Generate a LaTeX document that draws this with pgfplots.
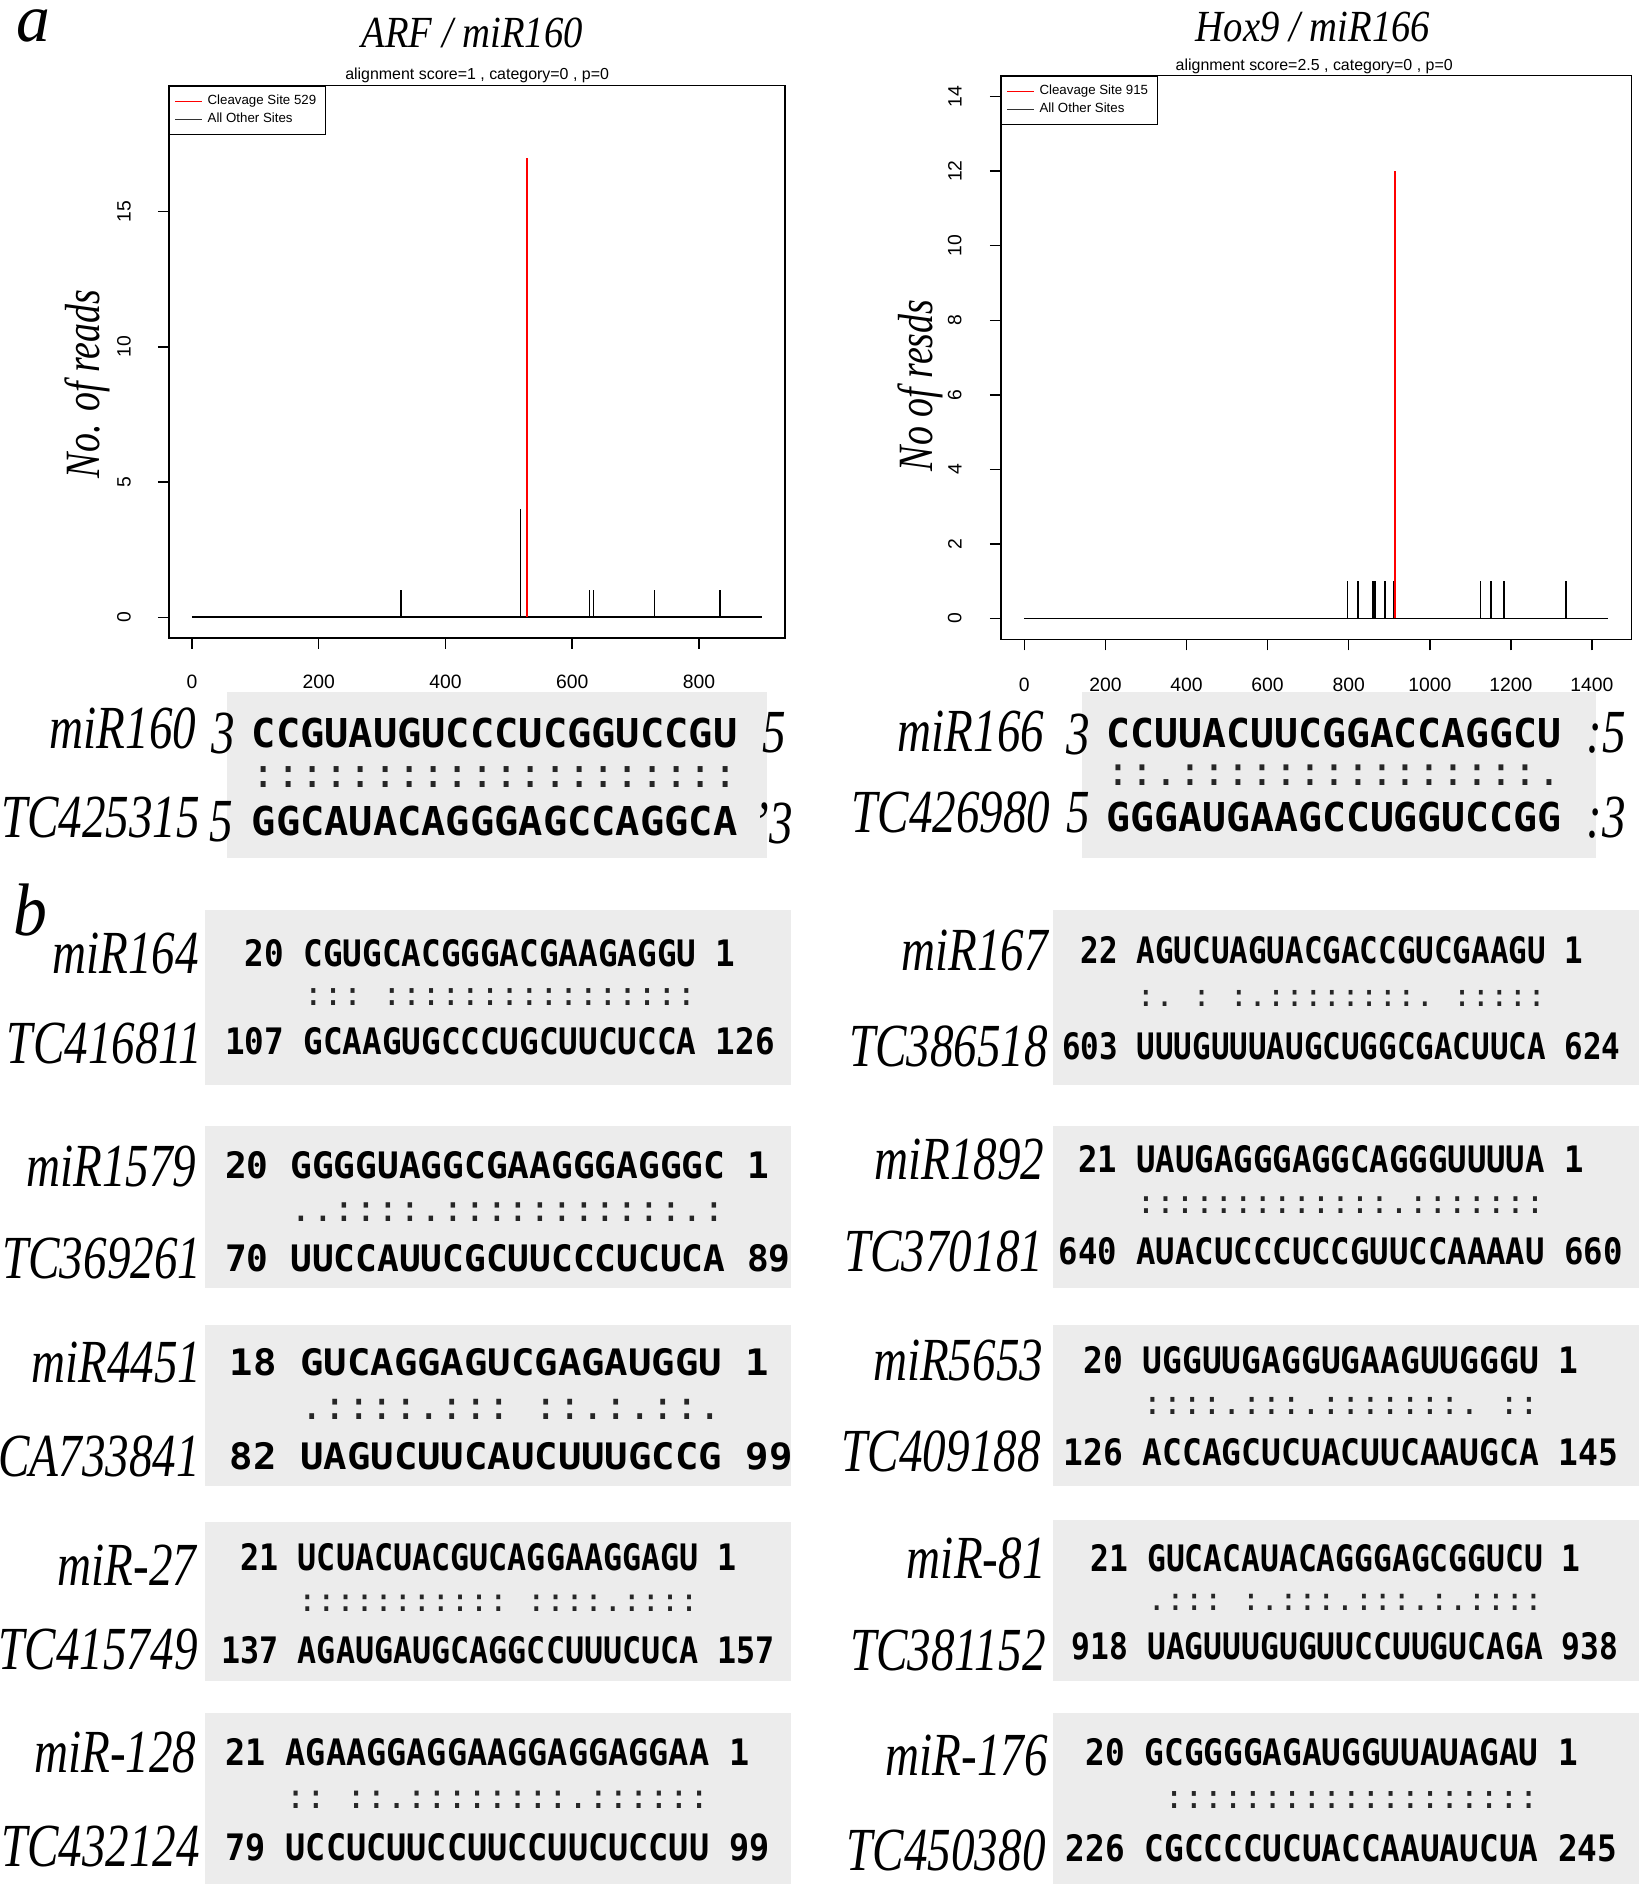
\documentclass[border=0pt]{standalone}
\usepackage{pgfplots}
\pgfplotsset{compat=1.18}
\usepackage{fontspec}
\usepackage{graphicx}
\setmainfont{Liberation Serif}
\newfontfamily\arial{Liberation Sans}
\newfontfamily\seqf{DejaVu Sans Mono}
\definecolor{boxgray}{RGB}{236,236,236}

% sequence line: x, y, char width (px), cap height (pt), text
\newcommand{\sq}[5]{%
  \pgfmathsetmacro{\fs}{#3/2/0.602}%
  \pgfmathsetmacro{\ys}{#4/(0.729*\fs)}%
  \node[anchor=west,inner sep=0pt] at (#1,#2) {\seqf\bfseries\fontsize{\fs pt}{\fs pt}\selectfont\scalebox{1}[\ys]{#5}};%
}
% dots line: x, y, char width, text
\newcommand{\dt}[4]{%
  \pgfmathsetmacro{\fs}{#3/2/0.602}%
  \node[anchor=west,inner sep=0pt,text=black!85] at (#1,#2) {\seqf\fontsize{\fs pt}{\fs pt}\selectfont #4};%
}
% name label: right x, y, text
\newcommand{\nm}[3]{%
  \node[anchor=east,inner sep=0pt] at (#1,#2) {\scalebox{1}[1.3]{\fontsize{19.5}{20}\selectfont\itshape #3}};%
}
\newcommand{\el}[3]{%
  \node[inner sep=0pt] at (#1,#2) {\scalebox{1}[1.3]{\fontsize{19.5}{20}\selectfont\itshape #3}};%
}
% block: x, w, ytop, ybot, top, dots, bottom
\newcommand{\blk}[7]{%
  \sq{#1}{#3}{#2}{11}{#5}%
  \pgfmathsetmacro{\ymid}{(#3+#4)/2}%
  \dt{#1}{\ymid}{#2}{#6}%
  \sq{#1}{#4}{#2}{11}{#7}%
}

\pgfplotsset{
  rplot/.style={
    scale only axis, anchor=south west,
    tick pos=left, tick align=outside, major tick length=4.6pt,
    axis line style={line width=0.6pt},
    every tick/.style={black,line width=0.6pt},
    /pgf/number format/assume math mode=true,
    /pgf/number format/1000 sep={},
    xticklabel style={font=\arial\fontsize{8}{8}\selectfont, anchor=north, inner sep=0pt},
    yticklabel style={font=\arial\fontsize{8}{8}\selectfont, rotate=90, anchor=south, inner sep=0pt},
    legend style={at={(0,1)}, anchor=north west, draw=black, line width=0.5pt,
      font=\arial\fontsize{5.5}{6}\selectfont, inner xsep=2pt, inner ysep=1.5pt, row sep=-2pt},
    legend cell align=left,
    legend image code/.code={\draw[##1] (0pt,0pt) -- (11pt,0pt);},
  }
}

\begin{document}
\begin{tikzpicture}
\begin{axis}[rplot,
  at={(70pt,-264pt)}, width=255pt, height=228.5pt,
  xmin=-36, xmax=936, ymin=-0.756, ymax=19.656,
  xtick={0,200,400,600,800}, ytick={0,5,10,15},
  xticklabel shift=10.6pt, yticklabel shift=11pt]
\addplot[black, line width=0.75pt, forget plot] coordinates {(0,0) (900,0)};
\addplot[ycomb, black, line width=0.6pt, forget plot] coordinates {(330,1) (518,4) (627,1) (634,1) (730,1) (833,1)};
\addplot[ycomb, red, line width=1pt, forget plot] coordinates {(529,17)};
\addlegendimage{red, line width=0.7pt}\addlegendentry{Cleavage Site 529}
\addlegendimage{black!80, line width=0.7pt}\addlegendentry{All Other Sites}
\end{axis}

\begin{axis}[rplot,
  at={(414.35pt,-264.65pt)}, width=261pt, height=233.3pt,
  xmin=-57.6, xmax=1497.6, ymin=-0.56, ymax=14.56,
  xtick={0,200,400,600,800,1000,1200,1400}, ytick={0,2,4,6,8,10,12,14},
  xticklabel shift=11pt, yticklabel shift=11.5pt]
\addplot[black, line width=0.75pt, forget plot] coordinates {(0,0) (1440,0)};
\addplot[ycomb, black, line width=0.8pt, forget plot] coordinates {(797,1) (822,1) (860,1) (864,1) (889,1) (912,1) (1125,1) (1150,1) (1182,1) (1337,1)};
\addplot[ycomb, red, line width=0.9pt, forget plot] coordinates {(915,12)};
\addlegendimage{red, line width=0.7pt}\addlegendentry{Cleavage Site 915}
\addlegendimage{black!80, line width=0.7pt}\addlegendentry{All Other Sites}
\end{axis}

\begin{scope}[x=0.5pt,y=-0.5pt]
\useasboundingbox (0,0) rectangle (1366,1568);
% panel letters
\node[anchor=base,inner sep=0pt] at (28,34) {\fontsize{28}{28}\selectfont\itshape a};
\node[inner sep=0pt] at (25,753) {\scalebox{1}[1.1]{\fontsize{28}{28}\selectfont\itshape b}};
% titles
\node[inner sep=0pt] at (391,27) {\scalebox{1}[1.15]{\fontsize{16}{16}\selectfont\itshape ARF / miR160}};
\node[inner sep=0pt] at (1087,22) {\scalebox{1}[1.15]{\fontsize{16}{16}\selectfont\itshape Hox9 / miR166}};
\node[inner sep=0pt,font=\arial\fontsize{6.6}{7}\selectfont] at (395,62) {alignment score=1 , category=0 , p=0};
\node[inner sep=0pt,font=\arial\fontsize{6.6}{7}\selectfont] at (1088,55) {alignment score=2.5 , category=0 , p=0};
% y labels
\node[rotate=90,inner sep=0pt] at (72,318) {\scalebox{1}[1.3]{\fontsize{15.7}{16}\selectfont\itshape No. of reads}};
\node[rotate=90,inner sep=0pt] at (762,319) {\scalebox{1}[1.3]{\fontsize{15.7}{16}\selectfont\itshape No of resds}};

% gray boxes
\fill[boxgray] (188,573) rectangle (635,710);
\fill[boxgray] (896,573) rectangle (1321,710);
\fill[boxgray] (170,753) rectangle (655,898);
\fill[boxgray] (872,753) rectangle (1357,898);
\fill[boxgray] (170,932) rectangle (655,1066);
\fill[boxgray] (872,932) rectangle (1357,1066);
\fill[boxgray] (170,1097) rectangle (655,1230);
\fill[boxgray] (872,1097) rectangle (1357,1230);
\fill[boxgray] (170,1260) rectangle (655,1392);
\fill[boxgray] (872,1258) rectangle (1357,1392);
\fill[boxgray] (170,1418) rectangle (655,1560);
\fill[boxgray] (872,1418) rectangle (1357,1560);

% row a
\nm{163}{603}{miR160}\nm{166}{677}{TC425315}
\el{185}{607}{3}\el{641}{607}{5}\el{183}{680}{5}\el{640}{682}{'3}
\sq{208}{607}{20.1}{12}{CCGUAUGUCCCUCGGUCCGU}
\dt{208}{643}{20.1}{::::::::::::::::::::}
\sq{208}{680}{20.1}{12}{GGCAUACAGGGAGCCAGGCA}

\nm{865}{606}{miR166}\nm{870}{673}{TC426980}
\el{893}{608}{3}\el{1330}{607}{:5}\el{893}{673}{5}\el{1330}{677}{:3}
\sq{916}{607}{19.8}{12}{CCUUACUUCGGACCAGGCU}
\dt{916}{642}{19.8}{::.:::::::::::::::.}
\sq{916}{676}{19.8}{12}{GGGAUGAAGCCUGGUCCGG}

% row b, left column
\nm{165}{789}{miR164}\nm{168}{864}{TC416811}
\blk{186}{16.25}{789}{862}{~20~CGUGCACGGGACGAAGAGGU~1}{~~~~:::~::::::::::::::::}{107~GCAAGUGCCCUGCUUCUCCA~126}
\nm{163}{966}{miR1579}\nm{167}{1042}{TC369261}
\blk{186}{18}{965}{1042}{20~GGGGUAGGCGAAGGGAGGGC~1}{~~~..::::.:::::::::::.:}{70~UUCCAUUCGCUUCCCUCUCA~89}
\nm{167}{1128}{miR4451}\nm{166}{1206}{CA733841}
\blk{190}{19.4}{1128}{1206}{18~GUCAGGAGUCGAGAUGGU~1}{~~~.::::.:::~::.:.::.}{82~UAGUCUUCAUCUUUGCCG~99}
\nm{163}{1296}{miR-27}\nm{164}{1366}{TC415749}
\blk{183}{15.8}{1289}{1366}{~21~UCUACUACGUCAGGAAGGAGU~1}{~~~~:::::::::::~::::.::::}{137~AGAUGAUGCAGGCCUUUCUCA~157}
\nm{163}{1451}{miR-128}\nm{166}{1529}{TC432124}
\blk{186}{16.7}{1451}{1529}{21~AGAAGGAGGAAGGAGGAGGAA~1}{~~~::~::.::::::::.::::::}{79~UCCUCUUCCUUCCUUCUCCUU~99}

% row b, right column
\nm{868}{787}{miR167}\nm{868}{866}{TC386518}
\blk{879}{15.4}{787}{866}{~22~AGUCUAGUACGACCGUCGAAGU~1}{~~~~:.~:~:.::::::::.~:::::}{603~UUUGUUUAUGCUGGCGACUUCA~624}
\nm{865}{960}{miR1892}\nm{864}{1036}{TC370181}
\blk{876}{16.1}{960}{1036}{~21~UAUGAGGGAGGCAGGGUUUUA~1}{~~~~:::::::::::::.:::::::}{640~AUACUCCCUCCGUUCCAAAAU~660}
\nm{864}{1126}{miR5653}\nm{862}{1202}{TC409188}
\blk{880}{16.4}{1126}{1202}{~20~UGGUUGAGGUGAAGUUGGGU~1}{~~~~::::.:::.:::::::.~::}{126~ACCAGCUCUACUUCAAUGCA~145}
\nm{866}{1290}{miR-81}\nm{866}{1366}{TC381152}
\blk{887}{15.6}{1290}{1363}{~21~GUCACAUACAGGGAGCGGUCU~1}{~~~~.:::~:.:::.:::.:.::::}{918~UAGUUUGUGUUCCUUGUCAGA~938}
\nm{868}{1453}{miR-176}\nm{866}{1532}{TC450380}
\blk{882}{16.3}{1451}{1530}{~20~GCGGGGAGAUGGUUAUAGAU~1}{~~~~~:::::::::::::::::::}{226~CGCCCCUCUACCAAUAUCUA~245}
\end{scope}
\end{tikzpicture}
\end{document}
